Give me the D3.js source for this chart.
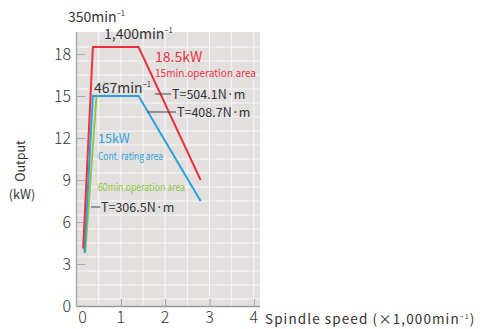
<!DOCTYPE html>
<html>
<head>
<meta charset="utf-8">
<script src="https://cdn.jsdelivr.net/npm/d3@7"></script>
<style>
	body { margin: 0; background: #fff; }
	svg text { font-family: "Noto Sans CJK JP", "DejaVu Sans", sans-serif; fill: #333; }
	.tickLabel { font-size: 16px; font-weight: 300; }
	.note { font-size: 12.5px; }
	.big { font-size: 14px; }
	.small { font-size: 10.5px; }
</style>
</head>
<body>
<div id="chart"></div>
<script>
// curves (speed x1000 min-1, output kW)
var redSpeed = [0.15, 0.37, 1.4, 2.8];
var redKW = [4.1, 18.5, 18.5, 9.0];
var blueSpeed = [0.18, 0.37, 1.4, 2.8];
var blueKW = [3.8, 15, 15, 7.5];
var greenSpeed = [0.2, 0.45];
var greenKW = [3.8, 15];

var xTicks = [0, 1, 2, 3, 4];
var yTicks = [0, 3, 6, 9, 12, 15, 18];

document.addEventListener("DOMContentLoaded", function() {

	var svg = d3.select('#chart').append('svg')
		.attr('width', 485)
		.attr('height', 329);

	var x = d3.scaleLinear()
		.domain([0, 4.14])
		.range([76.5, 260]);

	var y = d3.scaleLinear()
		.domain([0, 19.57])
		.range([306, 32]);

	// plot background
	svg.append('rect')
		.attr('x', x(0))
		.attr('y', y(19.57))
		.attr('width', x(4.14) - x(0))
		.attr('height', y(0) - y(19.57))
		.style('fill', '#e3dfdf');

	// grid
	svg.append('g').selectAll('line')
		.data(d3.range(0.5, 4.1, 0.5))
		.enter().append('line')
		.attr('x1', d => x(d)).attr('x2', d => x(d))
		.attr('y1', y(19.57)).attr('y2', y(0))
		.style('stroke', '#f7f6f6').style('stroke-width', 1);

	svg.append('g').selectAll('line')
		.data(d3.range(0.5, 19.5, 1))
		.enter().append('line')
		.attr('x1', x(0)).attr('x2', x(4.14))
		.attr('y1', d => y(d)).attr('y2', d => y(d))
		.style('stroke', '#f7f6f6').style('stroke-width', 1);

	// axes
	svg.append('g')
		.attr('transform', 'translate(0,' + y(0) + ')')
		.call(d3.axisTop(x).tickValues(xTicks.slice(1)).tickSize(7).tickFormat(''))
		.call(g => g.select('.domain').remove())
		.call(g => g.selectAll('line').style('stroke', '#999'));

	svg.append('g')
		.attr('transform', 'translate(' + x(0) + ',0)')
		.call(d3.axisRight(y).tickValues(yTicks.slice(1)).tickSize(9).tickFormat(''))
		.call(g => g.select('.domain').remove())
		.call(g => g.selectAll('line').style('stroke', '#aaa'));

	svg.append('line')
		.attr('x1', x(0)).attr('x2', x(4.14))
		.attr('y1', y(0) + 0.5).attr('y2', y(0) + 0.5)
		.style('stroke', '#999').style('stroke-width', 1.5);

	svg.append('line')
		.attr('x1', x(0)).attr('x2', x(0))
		.attr('y1', y(19.57)).attr('y2', y(0))
		.style('stroke', '#aaa').style('stroke-width', 1.5);

	svg.selectAll('text.xLab')
		.data(xTicks)
		.enter().append('text')
		.attr('class', 'tickLabel xLab')
		.attr('x', d => x(d) + (d == 0 ? 6 : 0))
		.attr('y', 323)
		.attr('text-anchor', 'middle')
		.text(d => d);

	svg.selectAll('text.yLab')
		.data(yTicks)
		.enter().append('text')
		.attr('class', 'tickLabel yLab')
		.attr('x', 71)
		.attr('y', d => y(d) + 6)
		.attr('text-anchor', 'end')
		.text(d => d);

	// curves
	var line = d3.line()
		.x(d => x(d[0]))
		.y(d => y(d[1]));

	var curves = [
		{sp: greenSpeed, kw: greenKW, color: '#8cc63f', w: 1.8},
		{sp: blueSpeed, kw: blueKW, color: '#29a3dc', w: 2},
		{sp: redSpeed, kw: redKW, color: '#e8323c', w: 2}
	];

	curves.forEach(function(c) {
		svg.append('path')
			.datum(d3.zip(c.sp, c.kw))
			.attr('d', line)
			.style('fill', 'none')
			.style('stroke', c.color)
			.style('stroke-width', c.w);
	});

	// labels with min-1 superscript
	function minLabel(txt, px, py) {
		var t = svg.append('text')
			.attr('class', 'big')
			.attr('x', px)
			.attr('y', py);
		t.append('tspan').text(txt + 'min');
		t.append('tspan')
			.attr('font-size', '7.5px')
			.attr('dy', -6)
			.text('−1');
	}

	minLabel('350', 68, 22);
	minLabel('1,400', 104, 39);
	minLabel('467', 94, 93);

	svg.append('text')
		.attr('class', 'big')
		.attr('x', 155).attr('y', 62)
		.style('fill', '#e8323c')
		.text('18.5kW');

	svg.append('text')
		.attr('class', 'small')
		.attr('x', 155).attr('y', 77)
		.attr('textLength', 101).attr('lengthAdjust', 'spacingAndGlyphs')
		.style('fill', '#e8323c')
		.text('15min.operation area');

	svg.append('text')
		.attr('class', 'note')
		.attr('x', 98).attr('y', 143)
		.style('fill', '#29a3dc')
		.text('15kW');

	svg.append('text')
		.attr('class', 'small')
		.attr('x', 98).attr('y', 160)
		.attr('textLength', 65).attr('lengthAdjust', 'spacingAndGlyphs')
		.style('fill', '#29a3dc')
		.text('Cont. rating area');

	svg.append('text')
		.attr('class', 'small')
		.attr('x', 98).attr('y', 191)
		.attr('textLength', 87).attr('lengthAdjust', 'spacingAndGlyphs')
		.style('fill', '#8cc63f')
		.text('60min.operation area');

	// torque leaders
	var torque = [
		{label: 'T=504.1N·m', x1: 155, x2: 171, yy: 94},
		{label: 'T=408.7N·m', x1: 147, x2: 176, yy: 112},
		{label: 'T=306.5N·m', x1: 91, x2: 100, yy: 207}
	];

	torque.forEach(function(t) {
		svg.append('line')
			.attr('x1', t.x1).attr('x2', t.x2)
			.attr('y1', t.yy).attr('y2', t.yy)
			.style('stroke', '#444').style('stroke-width', 1);
		svg.append('text')
			.attr('class', 'note')
			.attr('x', t.x2 + 1)
			.attr('y', t.yy + 5)
			.text(t.label);
	});

	// axis titles
	svg.append('text')
		.attr('transform', 'translate(25,161) rotate(-90)')
		.attr('text-anchor', 'middle')
		.style('font-size', '12.5px')
		.text('Output');

	svg.append('text')
		.attr('x', 22).attr('y', 199)
		.attr('text-anchor', 'middle')
		.style('font-size', '12.5px')
		.text('(kW)');

	var xt = svg.append('text')
		.attr('x', 265).attr('y', 324)
		.style('font-size', '13.5px')
		.style('letter-spacing', '1.1px');
	xt.append('tspan').text('Spindle speed (×1,000min');
	xt.append('tspan').attr('font-size', '7px').attr('dy', -5).text('−1');
	xt.append('tspan').attr('dy', 5).text(')');

});
</script>
</body>
</html>
